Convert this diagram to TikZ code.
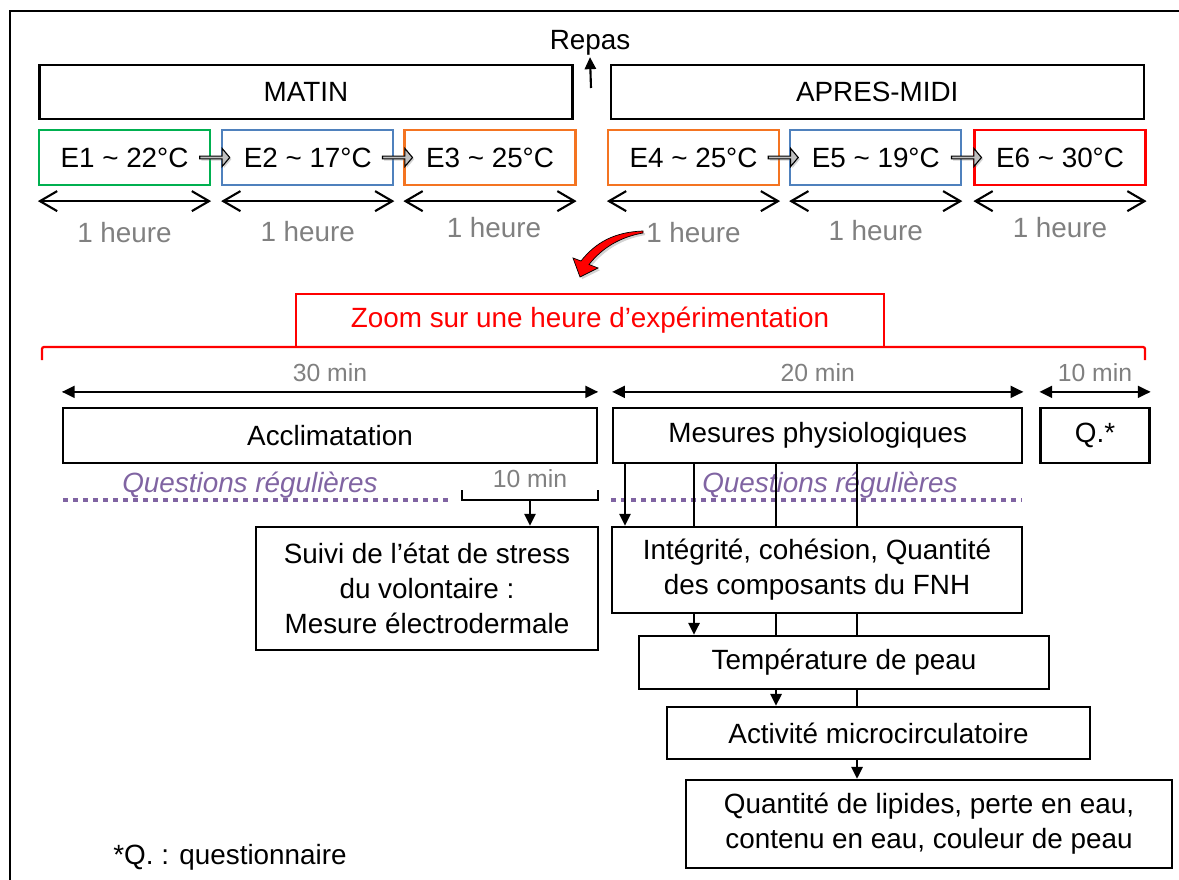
\documentclass[tikz,border=0pt]{standalone}
\usepackage{fontspec}
\setmainfont{Liberation Sans}
\usepackage{xcolor}
\usepackage{tikz}
\usetikzlibrary{arrows.meta, positioning, calc, shapes.arrows, shadows}
\definecolor{EX_GREEN}{HTML}{00B050}
\definecolor{EX_BLUE}{HTML}{4F81BD}
\definecolor{EX_ORANGE}{HTML}{F47421}
\definecolor{EX_RED}{HTML}{FF0000}
\definecolor{EX_PURPLE}{HTML}{8064A2}
\definecolor{EX_GREY}{HTML}{C0C0C0}
\definecolor{EX_LABEL}{HTML}{808080}
\newcommand{\px}{0.025cm}
\newcommand{\bigtxt}{\fontsize{19.8}{24.8}\selectfont}
\newcommand{\midtxt}{\fontsize{17.6}{21}\selectfont}
\tikzset{
  halfday/.style={
    rectangle, draw=black, line width=1.6pt,
    minimum width=533*\px, minimum height=54*\px,
    inner sep=0pt, font=\bigtxt},
  trial/.style={
    rectangle, draw=#1, line width=1.6pt,
    minimum width=171*\px, minimum height=55*\px,
    inner sep=0pt, font=\bigtxt},
  handoff/.style={
    single arrow, draw=black, line width=0.8pt, fill=EX_GREY,
    minimum height=30*\px, minimum width=18*\px,
    single arrow head extend=3*\px, single arrow tip angle=100,
    inner sep=0pt,
    drop shadow={opacity=0.35, shadow xshift=1.2pt, shadow yshift=-1.2pt}},
  stage/.style 2 args={
    rectangle, draw=black, line width=1.6pt,
    minimum width=#1*\px, minimum height=#2*\px,
    inner sep=0pt, align=center, font=\bigtxt},
  lbl/.style={inner sep=0pt, text=EX_LABEL, font=\bigtxt},
  minlbl/.style={inner sep=0pt, text=EX_LABEL, font=\midtxt},
  cuetxt/.style={inner sep=0pt, text=EX_PURPLE, font=\bigtxt\itshape},
  hour/.style={{Straight Barb[length=4.3mm, width=5mm]}-{Straight Barb[length=4.3mm, width=5mm]}, line width=1.5pt},
  dur/.style={{Triangle[length=3.2mm, width=3mm]}-{Triangle[length=3.2mm, width=3mm]}, line width=1.5pt},
  flow/.style={-{Triangle[length=3mm, width=2.8mm]}, line width=1.6pt},
  link/.style={line width=1.6pt},
  cue/.style={line width=1mm, EX_PURPLE, dash pattern=on 1.25mm off 1.25mm},
}

\begin{document}
\begin{tikzpicture}[x=0.025cm, y=-0.025cm]

  \useasboundingbox (0,0) rectangle (1179,880);
  \draw[line width=2.1pt] (10,11) rectangle (1300,1000);

  % day overview
  \node[font=\bigtxt, inner sep=1pt] (repas) at (590,43) {Repas};
  \node[halfday] (matin) at (306,92) {MATIN};
  \node[halfday, right=36*\px of matin] (apres) {APRES-MIDI};
  \coordinate (meal) at (591,88);
  \draw[-{Triangle[length=3mm, width=2.8mm]}, line width=1.5pt] (meal) -- (repas.south);

  \node[trial=EX_GREEN] (e1) at (124.5,157.5) {E1 \textasciitilde{} 22°C};
  \node[trial=EX_BLUE, right=10*\px of e1] (e2) {E2 \textasciitilde{} 17°C};
  \node[trial=EX_ORANGE, right=9*\px of e2] (e3) {E3 \textasciitilde{} 25°C};
  \node[trial=EX_ORANGE] (e4) at (693.5,157.5) {E4 \textasciitilde{} 25°C};
  \node[trial=EX_BLUE, right=9*\px of e4] (e5) {E5 \textasciitilde{} 19°C};
  \node[trial=EX_RED, right=11*\px of e5] (e6) {E6 \textasciitilde{} 30°C};

  \node[handoff] (h12) at ($(e1.east)!0.5!(e2.west)+(-2,0)$) {};
  \node[handoff] (h23) at ($(e2.east)!0.5!(e3.west)+(-2,0)$) {};
  \node[handoff] (h45) at ($(e4.east)!0.5!(e5.west)+(-2,0)$) {};
  \node[handoff] (h56) at ($(e5.east)!0.5!(e6.west)+(-2,0)$) {};

  \draw[hour] ([yshift=-15*\px]e1.south west) -- ([yshift=-15*\px]e1.south east)
    node[lbl, midway, yshift=-31*\px] {1 heure};
  \draw[hour] ([yshift=-15*\px]e2.south west) -- ([yshift=-15*\px]e2.south east)
    node[lbl, midway, yshift=-30*\px] {1 heure};
  \draw[hour] ([yshift=-15*\px]e3.south west) -- ([yshift=-15*\px]e3.south east)
    node[lbl, midway, yshift=-26*\px, xshift=4*\px] {1 heure};
  \draw[hour] ([yshift=-15*\px]e4.south west) -- ([yshift=-15*\px]e4.south east)
    node[lbl, midway, yshift=-31*\px] (h4) {1 heure};
  \draw[hour] ([yshift=-15*\px]e5.south west) -- ([yshift=-15*\px]e5.south east)
    node[lbl, midway, yshift=-29*\px] {1 heure};
  \draw[hour] ([yshift=-15*\px]e6.south west) -- ([yshift=-15*\px]e6.south east)
    node[lbl, midway, yshift=-26*\px] {1 heure};

  % curved pointer to the zoom
  \filldraw[fill=EX_RED, draw=black, line width=0.5pt,
    drop shadow={opacity=0.35, shadow xshift=1.5pt, shadow yshift=-1.5pt}]
    (643,231) .. controls (615,232) and (596,242) .. (581,261)
    -- (573,258) -- (580,277) -- (598,268) -- (589,264.5)
    .. controls (602,248) and (620,237) .. (643,233) -- cycle;

  % one hour in detail
  \node[stage={588}{53}, draw=EX_RED, text=EX_RED] (zoom) at (590,320.5)
    {Zoom sur une heure d’expérimentation};
  \draw[EX_RED, line width=1.6pt, rounded corners=2*\px]
    (42,360) -- (42,347) -- (1145,347) -- (1145,360);

  \node[stage={534}{55}] (accl) at (330,435.5) {Acclimatation};
  \node[stage={409}{55}, right=14*\px of accl] (mes) {Mesures physiologiques};
  \node[stage={109}{55}, right=16*\px of mes] (quest) {Q.*};

  \draw[dur] ([yshift=15*\px]accl.north west) -- ([yshift=15*\px]accl.north east)
    node[minlbl, midway, yshift=19*\px] {30 min};
  \draw[dur] ([yshift=15*\px]mes.north west) -- ([yshift=15*\px]mes.north east)
    node[minlbl, midway, yshift=19*\px] {20 min};
  \draw[dur] ([yshift=15*\px]quest.north west) -- ([yshift=15*\px]quest.north east)
    node[minlbl, midway, yshift=19*\px] {10 min};

  \node[cuetxt] (cue1) at (250,485) {Questions régulières};
  \draw[cue] (63,500) -- (448,500);
  \node[cuetxt] (cue2) at (830,485) {Questions régulières};
  \draw[cue] (611,500) -- (1022,500);

  \node[minlbl] (last10) at (530,479) {10 min};
  \draw[line width=1.6pt] (462,490) -- (462,500) -- (598,500) -- (598,490);
  \coordinate (brk) at (530,500);

  \node[stage={342}{123}] (suivi) at (427,588.5)
    {Suivi de l’état de stress\\du volontaire :\\Mesure électrodermale};
  \draw[flow] (brk) -- (suivi.north -| brk);

  \node[stage={410}{86}] (integ) at (817,570)
    {Intégrité, cohésion, Quantité\\des composants du FNH};
  \node[stage={410}{53}] (temp) at (844,662.5) {Température de peau};
  \node[stage={423}{52}] (activ) at (878.5,733) {Activité microcirculatoire};
  \node[stage={486}{88}] (lipid) at (929,824)
    {Quantité de lipides, perte en eau,\\contenu en eau, couleur de peau};

  \coordinate (c1) at (625,0);
  \coordinate (c2) at (694,0);
  \coordinate (c3) at (776,0);
  \coordinate (c4) at (857,0);

  \draw[flow] (mes.south -| c1) -- (integ.north -| c1);
  \draw[link] (mes.south -| c2) -- (integ.north -| c2);
  \draw[link] (mes.south -| c3) -- (integ.north -| c3);
  \draw[link] (mes.south -| c4) -- (integ.north -| c4);

  \draw[flow] (integ.south -| c2) -- (temp.north -| c2);
  \draw[link] (integ.south -| c3) -- (temp.north -| c3);
  \draw[link] (integ.south -| c4) -- (temp.north -| c4);

  \draw[flow] (temp.south -| c3) -- (activ.north -| c3);
  \draw[link] (temp.south -| c4) -- (activ.north -| c4);

  \draw[flow] (activ.south -| c4) -- (lipid.north -| c4);

  \node[font=\bigtxt, inner sep=0pt] (note) at (230,857) {*Q. : questionnaire};

\end{tikzpicture}
\end{document}
